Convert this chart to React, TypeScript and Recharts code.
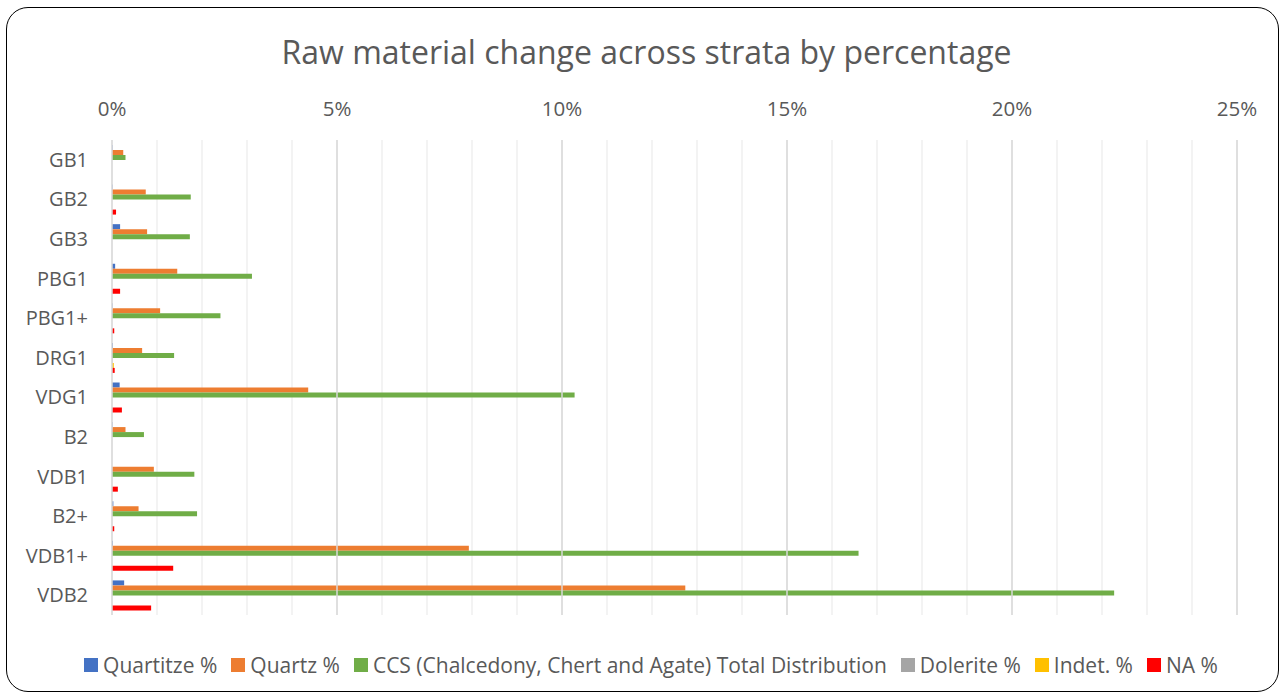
import React from "react";
import { BarChart, Bar, XAxis, YAxis, CartesianGrid, ReferenceLine } from "recharts";

const categories = ["GB1", "GB2", "GB3", "PBG1", "PBG1+", "DRG1", "VDG1", "B2", "VDB1", "B2+", "VDB1+", "VDB2"];
const quartitze = [0.01, 0.01, 0.18, 0.07, 0.01, 0.02, 0.17, 0.01, 0, 0.03, 0.02, 0.27];
const quartz = [0.25, 0.75, 0.78, 1.45, 1.07, 0.67, 4.36, 0.3, 0.93, 0.59, 7.93, 12.74];
const ccs = [0.3, 1.75, 1.73, 3.11, 2.41, 1.38, 10.28, 0.71, 1.83, 1.89, 16.59, 22.27];
const dolerite = [0, 0, 0, 0, 0, 0.01, 0, 0, 0, 0, 0, 0];
const indet = [0, 0, 0, 0, 0, 0.04, 0, 0, 0, 0, 0, 0];
const na = [0, 0.09, 0, 0.18, 0.05, 0.06, 0.22, 0, 0.13, 0.05, 1.36, 0.87];
const xTicks = [0, 1, 2, 3, 4, 5, 6, 7, 8, 9, 10, 11, 12, 13, 14, 15, 16, 17, 18, 19, 20, 21, 22, 23, 24, 25];
const majorTicks = [5, 10, 15, 20, 25];

const series = [
  { key: "quartitze", name: "Quartitze %", color: "#4472C4", values: quartitze },
  { key: "quartz", name: "Quartz %", color: "#ED7D31", values: quartz },
  { key: "ccs", name: "CCS (Chalcedony, Chert and Agate) Total Distribution", color: "#70AD47", values: ccs },
  { key: "dolerite", name: "Dolerite %", color: "#A5A5A5", values: dolerite },
  { key: "indet", name: "Indet. %", color: "#FFC000", values: indet },
  { key: "na", name: "NA %", color: "#FF0000", values: na },
];

const data = categories.map((c, i) => {
  const row: Record<string, any> = { name: c };
  series.forEach((s) => (row[s.key] = s.values[i]));
  return row;
});

const FONT = "'Open Sans', sans-serif";
const TXT = "#595959";

export default function App() {
  return (
    <div style={{ position: "absolute", left: 0, top: 0, width: 1288, height: 700, background: "#fff", fontFamily: FONT }}>
      <div
        style={{
          position: "absolute",
          left: 6,
          top: 7,
          width: 1273,
          height: 685,
          border: "1.5px solid #000",
          borderRadius: 22,
          boxSizing: "border-box",
        }}
      />
      <div
        style={{
          position: "absolute",
          left: 0,
          top: 30,
          width: 1293,
          textAlign: "center",
          fontSize: 32,
          color: TXT,
          lineHeight: "44px",
        }}
      >
        Raw material change across strata by percentage
      </div>
      <div style={{ position: "absolute", left: 0, top: 0 }}>
        <BarChart
          width={1288}
          height={700}
          data={data}
          layout="vertical"
          margin={{ top: 100, right: 51, bottom: 85, left: 22 }}
          barGap={0}
          barSize={5}
        >
          <CartesianGrid horizontal={false} stroke="#ededed" strokeWidth={1.3} />
          <XAxis
            type="number"
            orientation="top"
            domain={[0, 25]}
            ticks={xTicks}
            interval={0}
            tickFormatter={(v: number) => (v % 5 === 0 ? `${v}%` : "")}
            axisLine={false}
            tickLine={false}
            tickSize={0}
            tickMargin={24}
            height={40}
            tick={{ fill: TXT, fontSize: 20.5, fontFamily: FONT }}
          />
          <YAxis
            type="category"
            dataKey="name"
            width={90}
            axisLine={{ stroke: "#d9d9d9", strokeWidth: 1.5 }}
            tickLine={false}
            tickSize={0}
            tickMargin={24}
            tick={{ fill: TXT, fontSize: 20, fontFamily: FONT }}
          />
          {majorTicks.map((t) => (
            <ReferenceLine key={t} x={t} stroke="#d9d9d9" strokeWidth={1.5} />
          ))}
          {series.map((s) => (
            <Bar key={s.key} dataKey={s.key} name={s.name} fill={s.color} isAnimationActive={false} />
          ))}
        </BarChart>
      </div>
      <div
        style={{
          position: "absolute",
          left: 0,
          top: 650,
          width: 1302,
          height: 30,
          display: "flex",
          justifyContent: "center",
          alignItems: "center",
          fontSize: 21,
          color: TXT,
          whiteSpace: "nowrap",
        }}
      >
        {series.map((s, i) => (
          <div key={s.key} style={{ display: "flex", alignItems: "center", marginRight: i < series.length - 1 ? 14 : 0 }}>
            <span style={{ display: "inline-block", width: 14, height: 14, background: s.color, marginRight: 5 }} />
            <span>{s.name}</span>
          </div>
        ))}
      </div>
    </div>
  );
}
